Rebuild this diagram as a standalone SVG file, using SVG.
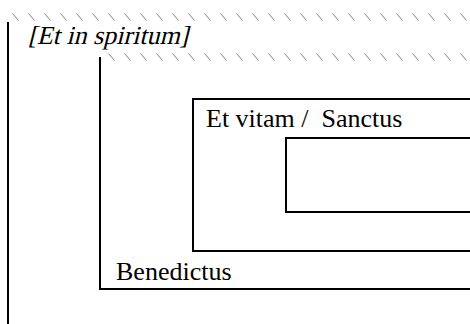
<svg xmlns="http://www.w3.org/2000/svg" width="470" height="324" viewBox="0 0 470 324">
  <style>
    .frame { fill: none; stroke: #000; stroke-width: 2; }
    .label { font-family: "Liberation Serif", "Times New Roman", serif; font-size: 26px; fill: #000; }
  </style>
  <defs>
    <!-- short diagonal ticks used for the open top edges -->
    <pattern id="ticks" x="12" y="13" width="16" height="40" patternUnits="userSpaceOnUse">
      <line x1="0.5" y1="0.5" x2="6.5" y2="7.5" stroke="#808080" stroke-width="1"/>
    </pattern>
  </defs>

  <g id="connectors">
    <rect x="12" y="13" width="458" height="9" fill="url(#ticks)"/>
    <rect x="108" y="53" width="362" height="9" fill="url(#ticks)"/>
  </g>

  <g id="spiritum">
    <path class="frame" d="M8 22 V324"/>
    <!-- slanted serif title -->
    <text class="label" transform="translate(28 44) skewX(-14)" x="0" y="0">[Et in spiritum]</text>
  </g>

  <g id="benedictus">
    <path class="frame" d="M100 57 V289 H470"/>
    <text class="label" x="116" y="280">Benedictus</text>
  </g>

  <g id="vitam-sanctus">
    <path class="frame" d="M470 99 H193 V251 H470"/>
    <text class="label" x="206" y="127" xml:space="preserve">Et vitam /  Sanctus</text>
  </g>

  <g id="inner">
    <path class="frame" d="M470 138 H286 V212 H470"/>
  </g>
</svg>
